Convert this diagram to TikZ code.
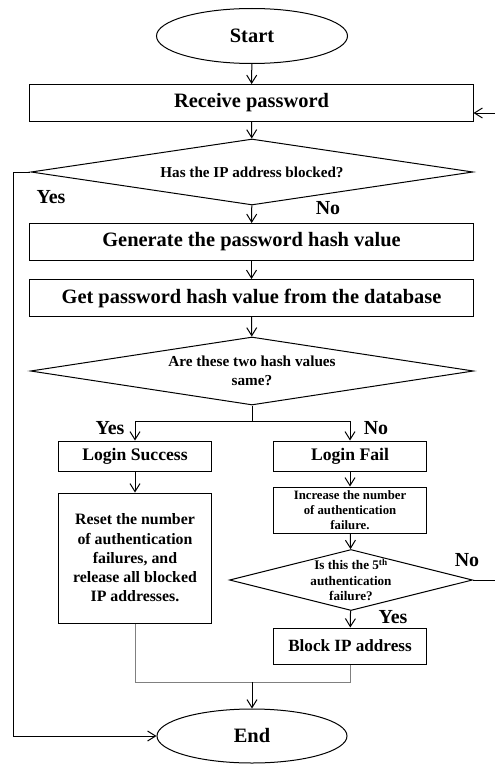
\documentclass[tikz,border=0pt]{standalone}
\usepackage{fontspec}
\setmainfont{Liberation Serif}
\usepackage{tikz}
\usetikzlibrary{arrows.meta,positioning,shapes.geometric}

\begin{document}
\begin{tikzpicture}[x=1bp,y=-1bp,>={Straight Barb[length=8bp,width=10bp]},
  terminal/.style={ellipse,draw,line width=1bp,minimum width=191bp,minimum height=55bp,inner sep=0pt,font=\fontsize{20.5}{24}\selectfont\bfseries},
  widebox/.style={draw,line width=1bp,minimum width=443bp,minimum height=37bp,inner sep=0pt,font=\fontsize{20.5}{24}\selectfont\bfseries},
  halfbox/.style={draw,line width=1bp,minimum width=153bp,inner sep=0pt,align=center},
  decision/.style={diamond,draw,line width=1bp,inner sep=0pt,aspect=6,align=center},
  lbl/.style={font=\fontsize{20}{24}\selectfont\bfseries},
  flow/.style={->,line width=1bp},
  mergeline/.style={line width=0.8bp,gray}]
  \useasboundingbox (0,0) rectangle (495,764);
  % main column
  \node[terminal] (start) at (252,36) {Start};
  \node[widebox] (recv) at (251.5,103) {Receive password};
  \node[decision,minimum width=442bp,minimum height=66bp,font=\fontsize{15.2}{18}\selectfont\bfseries] (d1) at (252,172) {Has the IP address blocked?};
  \node[widebox] (gen) at (251.5,242) {Generate the password hash value};
  \node[widebox] (get) at (251.5,298) {Get password hash value from the database};
  \node[decision,minimum width=443bp,minimum height=68bp,font=\fontsize{15.3}{19}\selectfont\bfseries] (d2) at (252,371) {Are these two hash values\\same?};
  % success branch
  \node[halfbox,minimum height=30bp,font=\fontsize{17.7}{21}\selectfont\bfseries] (succ) at (135,456) {Login Success};
  \node[halfbox,minimum height=130bp,font=\fontsize{15.9}{19.3}\selectfont\bfseries] (reset) at (135,558) {Reset the number\\of authentication\\failures, and\\release all blocked\\IP addresses.};
  % fail branch
  \node[halfbox,minimum height=30bp,font=\fontsize{17.7}{21}\selectfont\bfseries] (fail) at (350,456) {Login Fail};
  \node[halfbox,minimum height=46bp,font=\fontsize{12.8}{15}\selectfont\bfseries] (inc) at (350,510) {Increase the number\\of authentication\\failure.};
  \node[decision,minimum width=243bp,minimum height=61bp,
    label={[align=center,font=\fontsize{13.2}{15.5}\selectfont\bfseries]center:Is this the 5\textsuperscript{th}\\authentication\\failure?}] (d3) at (351,580) {};
  \node[halfbox,minimum height=36bp,font=\fontsize{17.2}{20}\selectfont\bfseries] (block) at (350,646) {Block IP address};
  \node[terminal,minimum width=190bp,minimum height=54bp] (end) at (252,736) {End};
  % labels
  \node[lbl] (yes1) at (51,197) {Yes};
  \node[lbl] (no1) at (328,208) {No};
  \node[lbl] (yes2) at (110,428) {Yes};
  \node[lbl] (no2) at (376,428) {No};
  \node[lbl] (no3) at (467,560) {No};
  \node[lbl] (yes3) at (393,617) {Yes};
  % helper points
  \coordinate (split) at (252,421);
  \coordinate (yesL) at (13,172);
  \coordinate (fbR) at (495,580);
  \coordinate (fbT) at (495,113);
  \coordinate (mg) at (252,682);
  % connectors
  \draw[flow] (start) -- (recv);
  \draw[flow] (recv) -- (d1);
  \draw[flow] (d1) -- (gen);
  \draw[flow] (gen) -- (get);
  \draw[flow] (get) -- (d2);
  \draw[line width=1bp] (d2.south) -- (split);
  \draw[flow] (split) -| (succ.north);
  \draw[flow] (split) -| (fail.north);
  \draw[flow] (succ) -- (reset);
  \draw[flow] (fail) -- (inc);
  \draw[flow] (inc) -- (d3);
  \draw[flow] (d3) -- (block);
  \draw[flow] (d1.west) -- (yesL) |- (end.west);
  \draw[flow] (d3.east) -- (fbR) -- (fbT) -- (recv.east |- fbT);
  \draw[mergeline] (reset.south) |- (block.south |- mg) -- (block.south);
  \draw[flow] (mg) -- (end);
\end{tikzpicture}
\end{document}
